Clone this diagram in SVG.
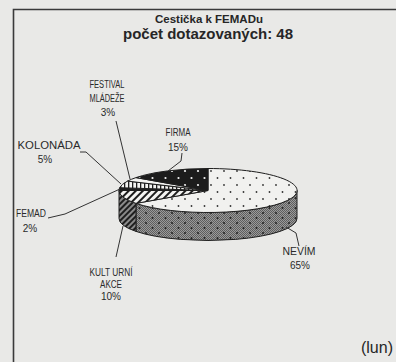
<svg xmlns="http://www.w3.org/2000/svg" width="396" height="362" viewBox="0 0 396 362">
<style>
.t{font-family:"Liberation Sans",Arial,sans-serif;fill:#262626}
.lb{font-family:"Liberation Sans",Arial,sans-serif;font-size:10px;fill:#2a2a2a;text-anchor:middle}
.ld{fill:none;stroke:#333;stroke-width:1}
.edge{stroke:#1e1e1e;stroke-width:1;stroke-linejoin:round}
</style>
<defs>
<pattern id="pFirma" width="13" height="14" patternUnits="userSpaceOnUse">
<rect width="13" height="14" fill="#1c1c1c"/>
<circle cx="3" cy="3" r="1.1" fill="#f2f2f2"/>
<circle cx="9.5" cy="10" r="1.1" fill="#f2f2f2"/>
</pattern>
<pattern id="pNevimTop" width="13" height="14" patternUnits="userSpaceOnUse">
<rect width="13" height="14" fill="#f1f1ef"/>
<circle cx="3" cy="3" r="0.9" fill="#333"/>
<circle cx="9.5" cy="10" r="0.9" fill="#333"/>
</pattern>
<pattern id="pChk" width="2" height="2" patternUnits="userSpaceOnUse">
<rect width="2" height="2" fill="#9a9a9a"/>
<rect width="1" height="1" fill="#5e5e5e"/>
<rect x="1" y="1" width="1" height="1" fill="#5e5e5e"/>
</pattern>
<pattern id="pSideDots" width="13" height="10" patternUnits="userSpaceOnUse">
<circle cx="3" cy="3" r="1" fill="#222"/>
<circle cx="9.5" cy="8" r="1" fill="#222"/>
</pattern>
<pattern id="pHatch" width="5" height="5" patternUnits="userSpaceOnUse" patternTransform="rotate(45)">
<rect width="5" height="5" fill="#f4f4f2"/>
<rect width="2" height="5" fill="#1e1e1e"/>
</pattern>
<pattern id="pHatchSide" width="4" height="4" patternUnits="userSpaceOnUse" patternTransform="rotate(45)">
<rect width="4" height="4" fill="#8a8a8a"/>
<rect width="2" height="4" fill="#1e1e1e"/>
</pattern>
<pattern id="pVert" width="4" height="4" patternUnits="userSpaceOnUse">
<rect width="4" height="4" fill="#f4f4f2"/>
<rect width="1.3" height="4" fill="#1e1e1e"/>
</pattern>
</defs>
<rect width="396" height="362" fill="#e9e9e7"/>
<g id="frame">
<path d="M13.5,362 V9.5 H396" fill="none" stroke="#3a3a3a" stroke-width="1.6"/>
</g>
<g id="title">
<text class="t" x="209" y="23" font-size="11.5" font-weight="bold" text-anchor="middle">Cestička k FEMADu</text>
<text class="t" x="208" y="39" font-size="15" font-weight="bold" text-anchor="middle">počet dotazovaných: 48</text>
</g>
<g id="pie">
<g id="slice-nevim">
<path d="M297,190.5 A89,22 0 0 1 136,203.4 L136,231.4 A89,22 0 0 0 297,218.5 Z" fill="url(#pChk)"/>
<path class="edge" d="M297,190.5 A89,22 0 0 1 136,203.4 L136,231.4 A89,22 0 0 0 297,218.5 Z" fill="url(#pSideDots)"/>
<path class="edge" d="M208,190.5 L208,168.5 A89,22 0 1 1 136,203.4 Z" fill="url(#pNevimTop)"/>
</g>
<g id="slice-kult">
<path class="edge" d="M136,203.4 A89,22 0 0 1 119,190.5 L119,218.5 A89,22 0 0 0 136,231.4 Z" fill="url(#pHatchSide)"/>
<path class="edge" d="M208,190.5 L136,203.4 A89,22 0 0 1 119,190.5 Z" fill="url(#pHatch)"/>
</g>
<g id="slice-femad">
<path class="edge" d="M208,190.5 L119,190.5 A89,22 0 0 1 119.7,187.7 Z" fill="#1e1e1e"/>
</g>
<g id="slice-kolonada">
<path class="edge" d="M208,190.5 L119.7,187.7 A89,22 0 0 1 127.5,181.1 Z" fill="url(#pVert)"/>
</g>
<g id="slice-festival">
<path class="edge" d="M208,190.5 L127.5,181.1 A89,22 0 0 1 136,177.6 Z" fill="#f4f4f2"/>
</g>
<g id="slice-firma">
<path class="edge" d="M208,190.5 L136,177.6 A89,22 0 0 1 208,168.5 Z" fill="url(#pFirma)"/>
</g>
</g>
<g id="connectors">
<polyline class="ld" points="116,121 130,179"/>
<polyline class="ld" points="80,152 86,152 121,184"/>
<polyline class="ld" points="48,218 65,214 120,189"/>
<polyline class="ld" points="182,153 181,161 168,171"/>
<polyline class="ld" points="123,226 116,257"/>
<polyline class="ld" points="286,227 296,233 299,246"/>
</g>
<g id="label-festival">
<text class="lb" x="107" y="88" textLength="35" lengthAdjust="spacingAndGlyphs">FESTIVAL</text>
<text class="lb" x="107" y="102" textLength="35" lengthAdjust="spacingAndGlyphs">MLÁDEŽE</text>
<text class="lb" x="108" y="116">3%</text>
</g>
<g id="label-firma">
<text class="lb" x="178" y="136" textLength="25" lengthAdjust="spacingAndGlyphs">FIRMA</text>
<text class="lb" x="178" y="151">15%</text>
</g>
<g id="label-kolonada">
<text class="lb" x="49" y="149" textLength="63" lengthAdjust="spacingAndGlyphs">KOLONÁDA</text>
<text class="lb" x="45" y="163">5%</text>
</g>
<g id="label-femad">
<text class="lb" x="31" y="217" textLength="30" lengthAdjust="spacingAndGlyphs">FEMAD</text>
<text class="lb" x="30" y="232">2%</text>
</g>
<g id="label-kult">
<text class="lb" x="111" y="276" textLength="43" lengthAdjust="spacingAndGlyphs">KULT URNÍ</text>
<text class="lb" x="111" y="288" textLength="22" lengthAdjust="spacingAndGlyphs">AKCE</text>
<text class="lb" x="111" y="300">10%</text>
</g>
<g id="label-nevim">
<text class="lb" x="299" y="255" textLength="33" lengthAdjust="spacingAndGlyphs">NEVÍM</text>
<text class="lb" x="300" y="269">65%</text>
</g>
<text class="t" x="393" y="353" font-size="16" text-anchor="end">(lun)</text>
</svg>
